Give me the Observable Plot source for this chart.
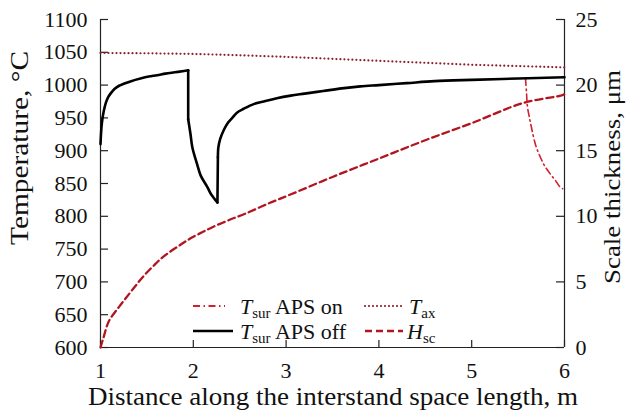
<!DOCTYPE html>
<html><head><meta charset="utf-8">
<script src="https://cdn.jsdelivr.net/npm/d3@7"></script>
<script src="https://cdn.jsdelivr.net/npm/@observablehq/plot@0.6"></script>
<style>body{margin:0;background:#fff} svg{display:block}</style>
</head><body><div id="chart"></div>
<script>
// T_sur APS off (°C); offSeg marks the smooth pieces and the two vertical jumps
const offX = [1.0,1.01,1.02,1.036,1.06,1.08,1.108,1.15,1.2,1.25,1.33,1.43,1.52,1.61,1.7,1.8,1.9,1.945,
  1.945,1.945,
  1.945,1.97,1.99,2.04,2.08,2.15,2.19,2.26,
  2.26,2.265,
  2.265,2.27,2.29,2.33,2.37,2.42,2.47,2.545,2.65,2.76,2.9,3.05,3.2,3.4,3.6,3.8,4.0,4.3,4.6,5.0,5.5,6.0];
const offT = [910,935,948,961,974,981,987,994,999,1002,1006,1010,1013,1015,1017.5,1019.5,1021.5,1022.5,
  1022.5,948,
  948,925,905,880,862,845,834,821,
  821,890,
  890,905,918,932,942,950,958,964,971,975,980,984,987,991,995,998,1000,1003,1006,1008,1010,1012];
const offSeg = [...Array(18).fill("a"), "b","b", ...Array(8).fill("c"), "d","d", ...Array(22).fill("e")];
// T_sur APS on (°C) – visible part where it departs from APS off
const onX = [5.58,5.59,5.6,5.62,5.64,5.69,5.74,5.79,5.85,5.9,5.95,5.98];
const onT = [1010,990,968,952,938,908,890,876,864,855,845,842];
// T_ax (°C)
const axX = [1,1.5,2,2.5,3,3.5,4,4.5,5,5.5,6];
const axT = [1049,1048.5,1047.5,1045.5,1043,1040,1037,1034,1031,1029,1027];
// H_sc (µm, right axis)
const hX = [1,1.03,1.09,1.2,1.305,1.4,1.485,1.575,1.665,1.75,1.845,1.92,1.99,2.1,2.2,2.38,2.56,2.8,3.06,3.5,4.0,4.5,5.0,5.56,5.96,6.0];
const hV = [0,0.7,2.0,3.1,4.05,4.9,5.6,6.25,6.85,7.3,7.75,8.1,8.4,8.8,9.15,9.7,10.2,10.95,11.7,13.0,14.4,15.8,17.1,18.65,19.2,19.3];

const xTicks = [1,2,3,4,5,6];
const yTicks = [600,650,700,750,800,850,900,950,1000,1050,1100];
const rTicks = [0,5,10,15,20,25];

const toT = h => 600 + h * 20; // map µm onto the temperature scale (0..25 -> 600..1100)

const off = offX.map((x,i)=>({x, y: offT[i], s: offSeg[i]}));
const on = onX.map((x,i)=>({x, y: onT[i]}));
const ax = axX.map((x,i)=>({x, y: axT[i]}));
const hs = hX.map((x,i)=>({x, y: toT(hV[i])}));

const W = 628, H = 417, mL = 100, mR = 64, mT = 19, mB = 70;
const fw = W - mL - mR, fh = H - mT - mB;
const serif = "'Liberation Serif', 'Times New Roman', serif";
const ink = "#222";
const chart = Plot.plot({
  width: W, height: H,
  marginLeft: mL, marginRight: mR, marginTop: mT, marginBottom: mB,
  style: {fontFamily: serif, fontSize: "22px", color: "#111", background: "#fff"},
  x: {domain: [1, 6]},
  y: {domain: [600, 1100]},
  marks: [
    Plot.axisX({ticks: xTicks, tickSize: 0, tickPadding: 15, label: null, tickFormat: d => String(d)}),
    Plot.axisY({ticks: yTicks, tickSize: 0, tickPadding: 13, label: null, tickFormat: d => String(d)}),
    Plot.axisY({anchor: "right", ticks: rTicks.map(toT), tickFormat: d => String((d - 600) / 20), tickSize: 0, tickPadding: 11, label: null}),
    // inward tick marks
    Plot.tickY(yTicks, {y: d => d, stroke: ink, strokeWidth: 1.2, insetRight: fw - 8}),
    Plot.tickY(rTicks.map(toT), {y: d => d, stroke: ink, strokeWidth: 1.2, insetLeft: fw - 8}),
    Plot.tickX(xTicks, {x: d => d, stroke: ink, strokeWidth: 1.2, insetTop: fh - 7}),
    Plot.ruleX([1, 6], {stroke: ink, strokeWidth: 1.2}),
    Plot.ruleY([600], {stroke: ink, strokeWidth: 1.2}),
    Plot.line(ax, {x: "x", y: "y", stroke: "#8b1e2b", strokeWidth: 2.2, strokeDasharray: "0,4", strokeLinecap: "round"}),
    Plot.line(hs, {x: "x", y: "y", stroke: "#b3141f", strokeWidth: 2.3, strokeDasharray: "7,4", curve: "catmull-rom"}),
    Plot.line(on, {x: "x", y: "y", stroke: "#d3202e", strokeWidth: 1.6, strokeDasharray: "7,3.5,1.5,3.5", curve: "catmull-rom"}),
    Plot.line(off, {x: "x", y: "y", z: "s", stroke: "#000", strokeWidth: 2.6, curve: "catmull-rom", strokeLinecap: "round"})
  ]
});
document.getElementById("chart").appendChild(chart);

const svg = d3.select(chart);
// axis titles
svg.append("text").attr("transform", "translate(28,148) rotate(-90)")
  .attr("text-anchor", "middle").attr("font-size", 26).attr("fill", "#111")
  .attr("textLength", 194).attr("lengthAdjust", "spacingAndGlyphs").text("Temperature, °C");
svg.append("text").attr("transform", "translate(620,177) rotate(-90)")
  .attr("text-anchor", "middle").attr("font-size", 24).attr("fill", "#111")
  .attr("textLength", 214).attr("lengthAdjust", "spacingAndGlyphs").text("Scale thickness, μm");
svg.append("text").attr("x", 333).attr("y", 405)
  .attr("text-anchor", "middle").attr("font-size", 25.5).attr("fill", "#111")
  .attr("textLength", 490).attr("lengthAdjust", "spacingAndGlyphs").text("Distance along the interstand space length, m");

// legend
const legend = [
  {x1: 193, x2: 225, y: 306, tx: 240, sub: "sur", rest: " APS on", stroke: "#d3202e", w: 1.8, dash: "7,3.5,1.5,3.5"},
  {x1: 193, x2: 233, y: 331, tx: 240, sub: "sur", rest: " APS off", stroke: "#000", w: 2.6, dash: null},
  {x1: 365, x2: 402, y: 306, tx: 409, sub: "ax", rest: "", stroke: "#8b1e2b", w: 2.2, dash: "0,4", cap: "round"},
  {x1: 365, x2: 403, y: 331, tx: 407, sub: "sc", rest: "", stroke: "#b3141f", w: 2.3, dash: "7,4", H: true}
];
const lg = svg.append("g").attr("text-anchor", "start");
legend.forEach(d => {
  lg.append("line").attr("x1", d.x1).attr("x2", d.x2).attr("y1", d.y).attr("y2", d.y)
    .attr("stroke", d.stroke).attr("stroke-width", d.w).attr("stroke-dasharray", d.dash)
    .attr("stroke-linecap", d.cap || "butt");
  const t = lg.append("text").attr("x", d.tx).attr("y", d.y + 8).attr("font-size", 22)
    .attr("text-anchor", "start").attr("fill", "#111");
  t.append("tspan").attr("font-style", "italic").text(d.H ? "H" : "T");
  t.append("tspan").attr("font-size", 15).attr("dy", 4).text(d.sub);
  if (d.rest) t.append("tspan").attr("dy", -4).text(d.rest);
});
</script></body></html>
